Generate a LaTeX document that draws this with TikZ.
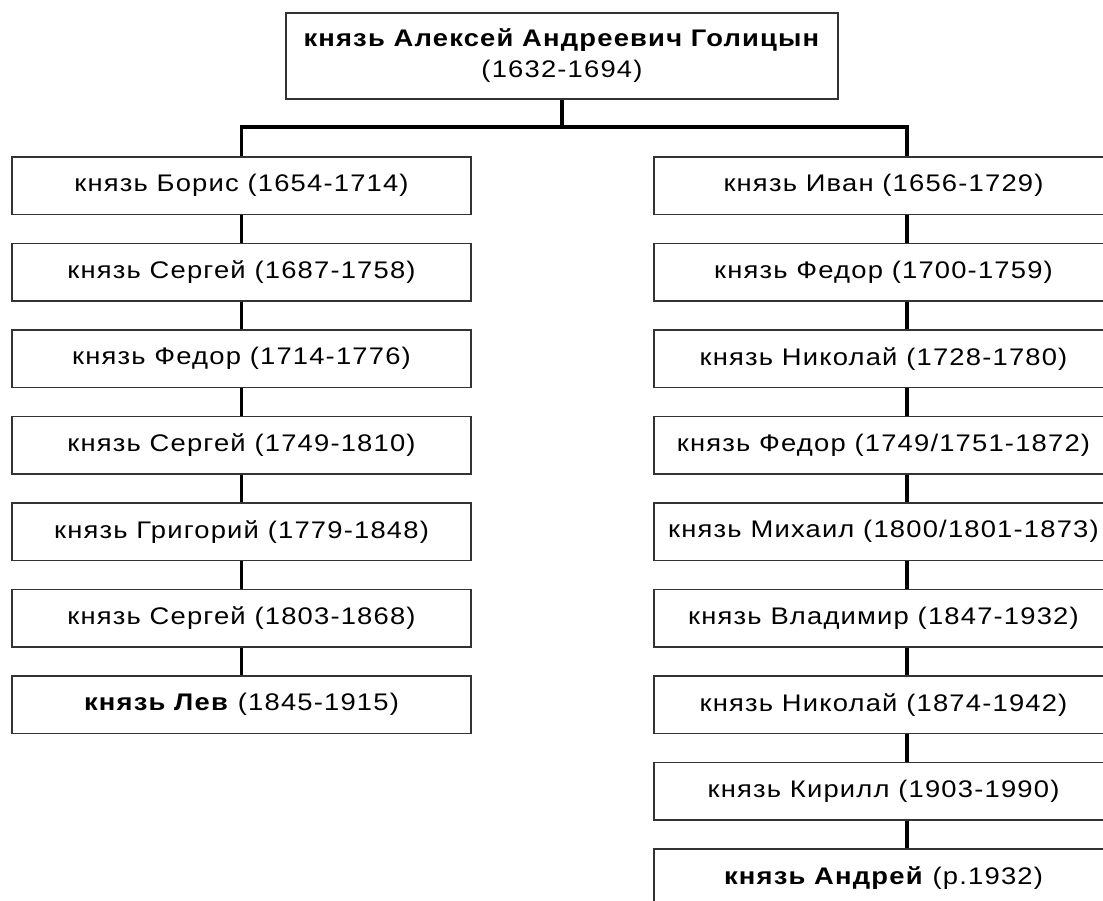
\documentclass[tikz,border=0pt]{standalone}
\usepackage{fontspec}
\setmainfont{Liberation Sans}[FakeStretch=1.14,LetterSpace=5]
\usetikzlibrary{positioning}

\tikzset{
	person/.style={draw=black!80, line width=1.2pt, minimum width=459pt, minimum height=57.5pt,
		inner sep=0pt, font=\fontsize{24}{31}\selectfont},
	conn/.style={line width=3.5pt},
}

\begin{document}
\begin{tikzpicture}[x=1pt,y=-1pt]
	\useasboundingbox (0,0) rectangle (1103,900);
	\clip (0,0) rectangle (1103,900);
	\fill[white] (0,0) rectangle (1103,900);
	% root
	\node[person, minimum width=552pt, minimum height=86pt, align=center] (root) at (562,56)
		{\textbf{князь Алексей Андреевич Голицын}\\(1632-1694)};
	\coordinate (bar) at (562,127);
	\coordinate (rline) at (907,127);
	% left branch
	\node[person] (l1) at (241.5,185.75) {князь Борис (1654-1714)};
	\node[person] (l2) at (241.5,272.25) {князь Сергей (1687-1758)};
	\node[person] (l3) at (241.5,358.75) {князь Федор (1714-1776)};
	\node[person] (l4) at (241.5,445.25) {князь Сергей (1749-1810)};
	\node[person] (l5) at (241.5,531.75) {князь Григорий (1779-1848)};
	\node[person] (l6) at (241.5,618.25) {князь Сергей (1803-1868)};
	\node[person] (l7) at (241.5,704.75) {\textbf{князь Лев} (1845-1915)};
	% right branch
	\node[person] (r1) at (883.5,185.75) {князь Иван (1656-1729)};
	\node[person] (r2) at (883.5,272.25) {князь Федор (1700-1759)};
	\node[person] (r3) at (883.5,358.75) {князь Николай (1728-1780)};
	\node[person] (r4) at (883.5,445.25) {князь Федор (1749/1751-1872)};
	\node[person] (r5) at (883.5,531.75) {князь Михаил (1800/1801-1873)};
	\node[person] (r6) at (883.5,618.25) {князь Владимир (1847-1932)};
	\node[person] (r7) at (883.5,704.75) {князь Николай (1874-1942)};
	\node[person] (r8) at (883.5,791.25) {князь Кирилл (1903-1990)};
	\node[person] (r9) at (883.5,877.75) {\textbf{князь Андрей} (р.1932)};
	% connectors
	\draw[conn] (root.south) -- (bar);
	\draw[conn] (l1.north) |- (bar) -- (rline) -- (r1.north -| rline);
	\draw[conn] (l1) -- (l2) (l2) -- (l3) (l3) -- (l4) (l4) -- (l5) (l5) -- (l6) (l6) -- (l7);
	\draw[conn] (r1.south -| rline) -- (r2.north -| rline) (r2.south -| rline) -- (r3.north -| rline)
		(r3.south -| rline) -- (r4.north -| rline) (r4.south -| rline) -- (r5.north -| rline)
		(r5.south -| rline) -- (r6.north -| rline) (r6.south -| rline) -- (r7.north -| rline)
		(r7.south -| rline) -- (r8.north -| rline) (r8.south -| rline) -- (r9.north -| rline);
\end{tikzpicture}
\end{document}
